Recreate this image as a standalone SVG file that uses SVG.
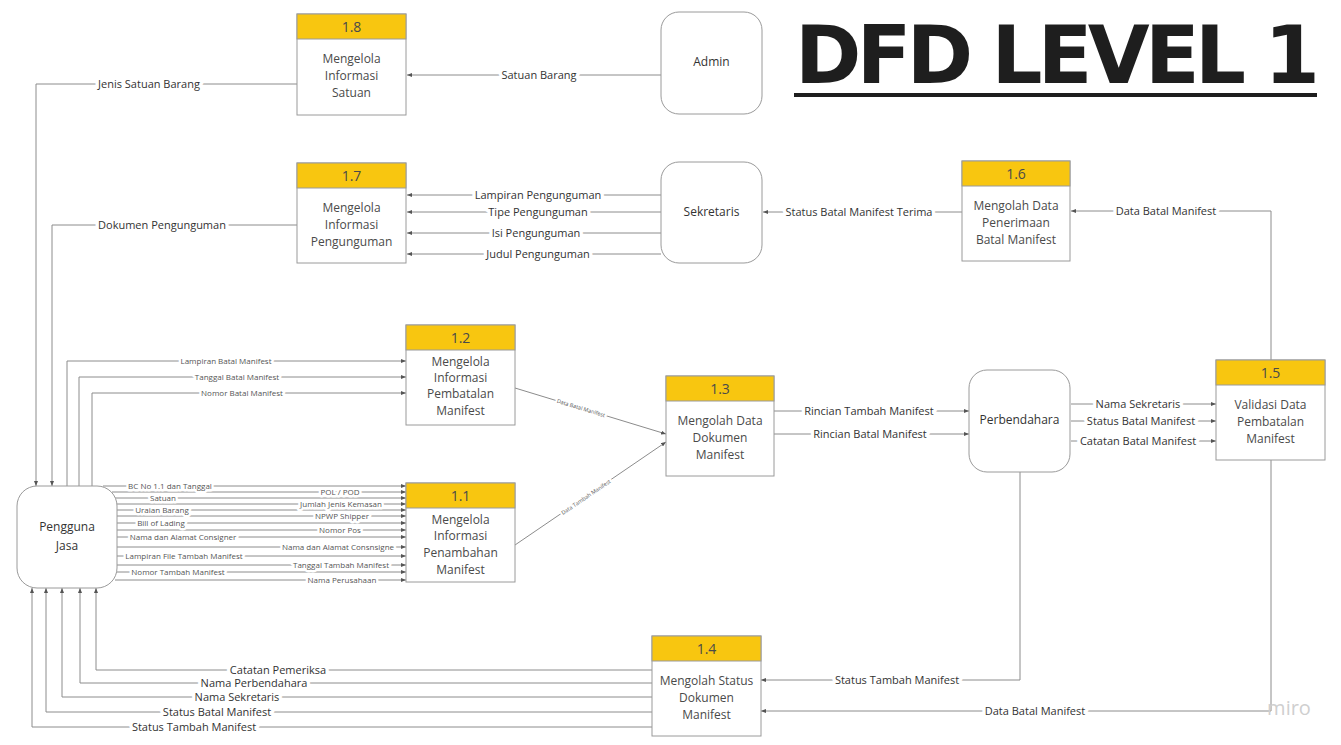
<svg xmlns="http://www.w3.org/2000/svg" width="1341" height="745" viewBox="0 0 1341 745">
<style>
.box{fill:#fff;stroke:#9a9a9a;stroke-width:1}
.hdr{fill:#f8c610;stroke:#9a9a9a;stroke-width:1}
.ent{fill:#fff;stroke:#9a9a9a;stroke-width:1}
.num{font-family:"Open Sans","Liberation Sans",sans-serif;font-size:14px;fill:#4a4a4a;text-anchor:middle}
.nt{font-family:"Open Sans","Liberation Sans",sans-serif;font-size:12px;fill:#4a4a4a;text-anchor:middle}
.et{font-family:"Open Sans","Liberation Sans",sans-serif;font-size:12px;fill:#333;text-anchor:middle}
.c{fill:none;stroke:#8c8c8c;stroke-width:1;marker-end:url(#ah)}
.l{font-family:"Open Sans","Liberation Sans",sans-serif;font-size:11px;fill:#333;text-anchor:middle;stroke:#fff;stroke-width:7;paint-order:stroke;stroke-linejoin:round}
.s{font-family:"Open Sans","Liberation Sans",sans-serif;font-size:8px;fill:#555;text-anchor:middle;stroke:#fff;stroke-width:5;paint-order:stroke;stroke-linejoin:round}
.d{font-family:"Open Sans","Liberation Sans",sans-serif;font-size:5.5px;fill:#555;text-anchor:middle;stroke:#fff;stroke-width:4;paint-order:stroke;stroke-linejoin:round}
</style>
<defs>
<marker id="ah" markerUnits="userSpaceOnUse" markerWidth="5" markerHeight="4" refX="5" refY="2" orient="auto">
<path d="M0,0 L5,2 L0,4 z" fill="#555"/>
</marker>
</defs>
<rect width="1341" height="745" fill="#fff"/>

<g id="connectors">
<path class="c" d="M661,75 H407"/>
<path class="c" d="M297,84 H36 V486"/>
<path class="c" d="M661,195 H407"/>
<path class="c" d="M661,212 H407"/>
<path class="c" d="M661,233 H407"/>
<path class="c" d="M661,254 H407"/>
<path class="c" d="M297,225 H52 V486"/>
<path class="c" d="M962,212 H763"/>
<path class="c" d="M1271,360 V211 H1071"/>
<path class="c" d="M67,486 V361 H406"/>
<path class="c" d="M79,486 V377 H406"/>
<path class="c" d="M92,486 V393 H406"/>
<path class="c" d="M515,388 L666,434"/>
<path class="c" d="M515,545 L666,442"/>
<path class="c" d="M774,411 H969"/>
<path class="c" d="M774,434 H969"/>
<path class="c" d="M1071,404 H1216"/>
<path class="c" d="M1071,421 H1216"/>
<path class="c" d="M1071,441 H1216"/>
<path class="c" d="M1020,472 V680 H761"/>
<path class="c" d="M1271,460 V711 H761"/>
<path class="c" d="M652,670 H96 V588"/>
<path class="c" d="M652,683 H80 V588"/>
<path class="c" d="M652,697 H62 V588"/>
<path class="c" d="M652,712 H46 V588"/>
<path class="c" d="M652,727 H32 V588"/>
<path class="c" d="M103,486 H406"/>
<path class="c" d="M112,492 H406"/>
<path class="c" d="M115,498 H406"/>
<path class="c" d="M117,504 H406"/>
<path class="c" d="M117,510 H406"/>
<path class="c" d="M117,516 H406"/>
<path class="c" d="M117,523 H406"/>
<path class="c" d="M117,530 H406"/>
<path class="c" d="M117,537 H406"/>
<path class="c" d="M117,547 H406"/>
<path class="c" d="M117,556 H406"/>
<path class="c" d="M117,565 H406"/>
<path class="c" d="M117,572 H406"/>
<path class="c" d="M115,580 H406"/>

<text class="l" x="539" y="79">Satuan Barang</text>
<text class="l" x="149" y="88">Jenis Satuan Barang</text>
<text class="l" x="538" y="199">Lampiran Pengunguman</text>
<text class="l" x="538" y="216">Tipe Pengunguman</text>
<text class="l" x="536" y="237">Isi Pengunguman</text>
<text class="l" x="538" y="258">Judul Pengunguman</text>
<text class="l" x="162" y="229">Dokumen Pengunguman</text>
<text class="l" x="859" y="216">Status Batal Manifest Terima</text>
<text class="l" x="1166" y="215">Data Batal Manifest</text>
<text class="s" x="226" y="364">Lampiran Batal Manifest</text>
<text class="s" x="237" y="380">Tanggal Batal Manifest</text>
<text class="s" x="242" y="396">Nomor Batal Manifest</text>
<text class="d" transform="translate(581,408) rotate(17)" x="0" y="2">Data Batal Manifest</text>
<text class="d" transform="translate(586,497) rotate(-34)" x="0" y="2">Data Tambah Manifest</text>
<text class="l" x="869" y="415">Rincian Tambah Manifest</text>
<text class="l" x="870" y="438">Rincian Batal Manifest</text>
<text class="l" x="1138" y="408">Nama Sekretaris</text>
<text class="l" x="1141" y="425">Status Batal Manifest</text>
<text class="l" x="1138" y="445">Catatan Batal Manifest</text>
<text class="l" x="897" y="684">Status Tambah Manifest</text>
<text class="l" x="1035" y="715">Data Batal Manifest</text>
<text class="l" x="278" y="674">Catatan Pemeriksa</text>
<text class="l" x="254" y="687">Nama Perbendahara</text>
<text class="l" x="237" y="701">Nama Sekretaris</text>
<text class="l" x="217" y="716">Status Batal Manifest</text>
<text class="l" x="194" y="731">Status Tambah Manifest</text>
<text class="s" x="170" y="489">BC No 1.1 dan Tanggal</text>
<text class="s" x="340" y="495">POL / POD</text>
<text class="s" x="163" y="501">Satuan</text>
<text class="s" x="341" y="507">Jumlah Jenis Kemasan</text>
<text class="s" x="162" y="513">Uraian Barang</text>
<text class="s" x="342" y="519">NPWP Shipper</text>
<text class="s" x="161" y="526">Bill of Lading</text>
<text class="s" x="340" y="533">Nomor Pos</text>
<text class="s" x="183" y="540">Nama dan Alamat Consigner</text>
<text class="s" x="338" y="550">Nama dan Alamat Consnsigne</text>
<text class="s" x="184" y="559">Lampiran File Tambah Manifest</text>
<text class="s" x="341" y="568">Tanggal Tambah Manifest</text>
<text class="s" x="178" y="575">Nomor Tambah Manifest</text>
<text class="s" x="342" y="583">Nama Perusahaan</text>
</g>

<g id="title">
<text x="795" y="83" font-family="DejaVu Sans, sans-serif" font-weight="bold" font-size="80" letter-spacing="-4.7" fill="#1e1e1e">DFD LEVEL 1</text>
<rect x="794" y="93" width="523" height="4" fill="#1e1e1e"/>
</g>

<g id="p18">
<rect class="box" x="297" y="14" width="109" height="101"/>
<rect class="hdr" x="297" y="14" width="109" height="25"/>
<text class="num" x="351.5" y="32">1.8</text>
<text class="nt" x="351.5" y="63">Mengelola</text>
<text class="nt" x="351.5" y="80">Informasi</text>
<text class="nt" x="351.5" y="97">Satuan</text>
</g>
<g id="admin">
<rect class="ent" x="661" y="12" width="101" height="102" rx="18"/>
<text class="et" x="711.5" y="66">Admin</text>
</g>
<g id="p17">
<rect class="box" x="297" y="163" width="109" height="100"/>
<rect class="hdr" x="297" y="163" width="109" height="25"/>
<text class="num" x="351.5" y="181">1.7</text>
<text class="nt" x="351.5" y="212">Mengelola</text>
<text class="nt" x="351.5" y="229">Informasi</text>
<text class="nt" x="351.5" y="246">Pengunguman</text>
</g>
<g id="sekretaris">
<rect class="ent" x="661" y="162" width="101" height="101" rx="18"/>
<text class="et" x="711.5" y="216">Sekretaris</text>
</g>
<g id="p16">
<rect class="box" x="962" y="161" width="108" height="100"/>
<rect class="hdr" x="962" y="161" width="108" height="25"/>
<text class="num" x="1016" y="179">1.6</text>
<text class="nt" x="1016" y="210">Mengolah Data</text>
<text class="nt" x="1016" y="227">Penerimaan</text>
<text class="nt" x="1016" y="244">Batal Manifest</text>
</g>
<g id="p12">
<rect class="box" x="406" y="325" width="109" height="100"/>
<rect class="hdr" x="406" y="325" width="109" height="25"/>
<text class="num" x="460.5" y="343">1.2</text>
<text class="nt" x="460.5" y="366">Mengelola</text>
<text class="nt" x="460.5" y="382">Informasi</text>
<text class="nt" x="460.5" y="398">Pembatalan</text>
<text class="nt" x="460.5" y="415">Manifest</text>
</g>
<g id="p13">
<rect class="box" x="666" y="376" width="108" height="100"/>
<rect class="hdr" x="666" y="376" width="108" height="25"/>
<text class="num" x="720" y="394">1.3</text>
<text class="nt" x="720" y="425">Mengolah Data</text>
<text class="nt" x="720" y="442">Dokumen</text>
<text class="nt" x="720" y="459">Manifest</text>
</g>
<g id="perbendahara">
<rect class="ent" x="969" y="370" width="101" height="102" rx="18"/>
<text class="et" x="1019.5" y="424">Perbendahara</text>
</g>
<g id="p15">
<rect class="box" x="1216" y="360" width="109" height="100"/>
<rect class="hdr" x="1216" y="360" width="109" height="25"/>
<text class="num" x="1270.5" y="378">1.5</text>
<text class="nt" x="1270.5" y="409">Validasi Data</text>
<text class="nt" x="1270.5" y="426">Pembatalan</text>
<text class="nt" x="1270.5" y="443">Manifest</text>
</g>
<g id="p11">
<rect class="box" x="406" y="483" width="109" height="99"/>
<rect class="hdr" x="406" y="483" width="109" height="25"/>
<text class="num" x="460.5" y="501">1.1</text>
<text class="nt" x="460.5" y="524">Mengelola</text>
<text class="nt" x="460.5" y="540">Informasi</text>
<text class="nt" x="460.5" y="557">Penambahan</text>
<text class="nt" x="460.5" y="574">Manifest</text>
</g>
<g id="pengguna">
<rect class="ent" x="17" y="486" width="100" height="102" rx="20"/>
<text class="et" x="67" y="531" font-size="15">Pengguna</text>
<text class="et" x="67" y="550" font-size="15">Jasa</text>
</g>
<g id="p14">
<rect class="box" x="652" y="636" width="109" height="100"/>
<rect class="hdr" x="652" y="636" width="109" height="25"/>
<text class="num" x="706.5" y="654">1.4</text>
<text class="nt" x="706.5" y="685">Mengolah Status</text>
<text class="nt" x="706.5" y="702">Dokumen</text>
<text class="nt" x="706.5" y="719">Manifest</text>
</g>
<text x="1289" y="715" font-family="Open Sans, Liberation Sans, sans-serif" font-size="20" fill="#cfcfcf" text-anchor="middle">miro</text>
</svg>
